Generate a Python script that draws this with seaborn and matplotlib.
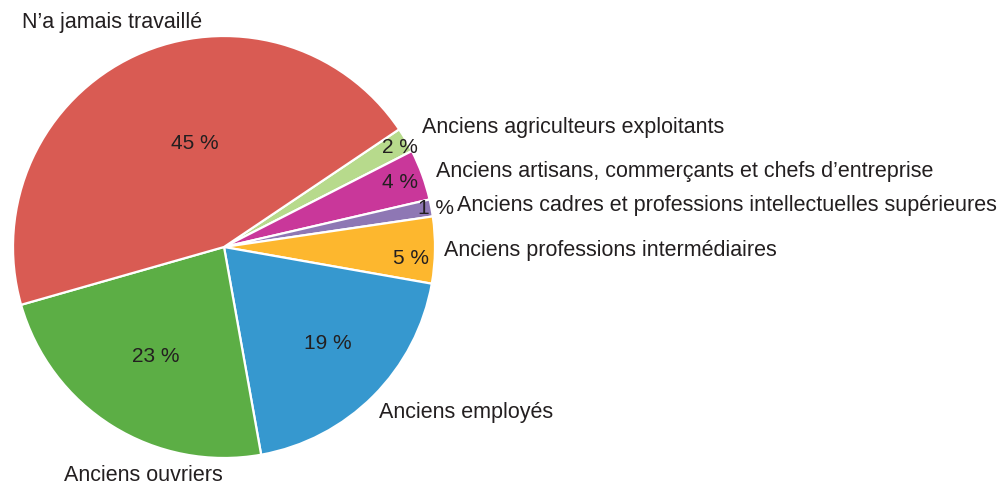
import matplotlib
matplotlib.use("Agg")
import matplotlib.pyplot as plt
import seaborn as sns
import numpy as np

# ---- data ----
categories = [
    "Anciens agriculteurs exploitants",
    "Anciens artisans, commerçants et chefs d’entreprise",
    "Anciens cadres et professions intellectuelles supérieures",
    "Anciens professions intermédiaires",
    "Anciens employés",
    "Anciens ouvriers",
    "N’a jamais travaillé",
]
shares = [1.9, 3.9, 1.3, 5.1, 19.4, 23.4, 45.0]
pct_labels = ["2 %", "4 %", "1 %", "5 %", "19 %", "23 %", "45 %"]
colors = ["#B7DA8C", "#C9379A", "#8E77B4", "#FDB72E", "#3698CF", "#5CAE45", "#D95B53"]

# ---- style ----
sns.set_theme(style="white")
plt.rcParams["font.family"] = ["Liberation Sans", "DejaVu Sans"]
TXT = "#231F20"

W, H, DPI = 1000, 488, 100
fig = plt.figure(figsize=(W / DPI, H / DPI), dpi=DPI)
ax = fig.add_axes([0, 0, 1, 1])

cx, cy, R = 224, 247, 211  # pixel layout of the pie

wedges, _ = ax.pie(
    shares, colors=colors, startangle=33.9, counterclock=False,
    radius=1.0, center=(0, 0), frame=True,
    wedgeprops=dict(edgecolor="white", linewidth=1.6),
)
ax.set_xlim(-cx / R, (W - cx) / R)
ax.set_ylim(-(H - cy) / R, cy / R)
ax.set_aspect("auto")
ax.axis("off")

# percentage label layout: (radius, angle offset from wedge middle)
pct_layout = [(0.96, -1.0), (0.89, 0.0), (1.02, -0.4), (0.89, -2.6),
              (0.67, 2.0), (0.61, 0.0), (0.51, -9.0)]
# outer label layout: (radius, absolute angle, ha)
out_layout = [(1.097, 31.2, "left"), (1.067, 19.7, "left"), (1.12, 10.0, "left"),
              (1.043, -0.8, "left"), (1.073, -46.8, "left"), (1.151, -109.5, "center"),
              (1.19, 116.4, "center")]

for w, pl, cat, (pr, pd), (orr, oa, ha) in zip(wedges, pct_labels, categories, pct_layout, out_layout):
    mid = (w.theta1 + w.theta2) / 2
    a = np.deg2rad(mid + pd)
    ax.text(pr * np.cos(a), pr * np.sin(a), pl, ha="center", va="center",
            fontsize=15, color=TXT)
    b = np.deg2rad(oa)
    ax.text(orr * np.cos(b), orr * np.sin(b), cat, ha=ha, va="center",
            fontsize=15.5, color=TXT)

fig.savefig("out.png", dpi=DPI, facecolor="white")
